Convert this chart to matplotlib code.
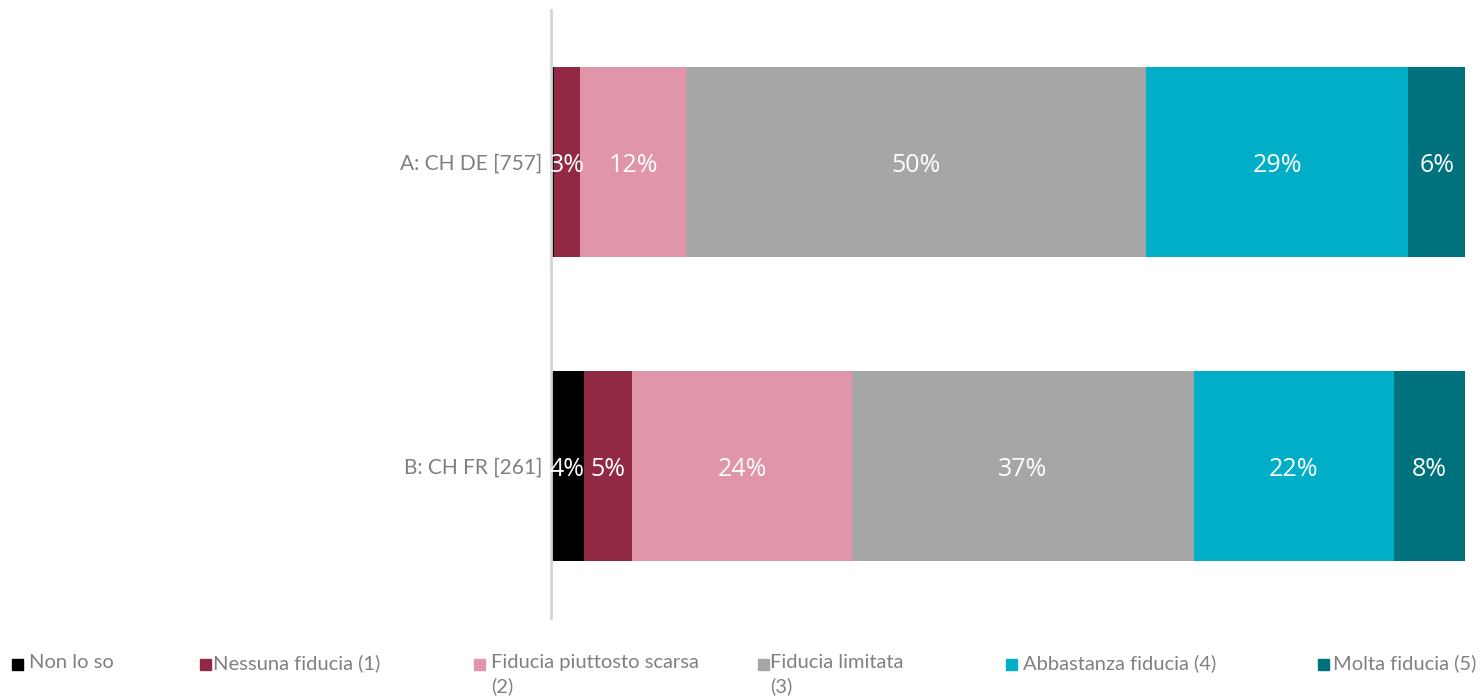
import numpy as np
import matplotlib
matplotlib.use("Agg")
import matplotlib.pyplot as plt
from matplotlib.patches import Rectangle

# data (percent)
groups = ["B: CH FR [261]", "A: CH DE [757]"]
categories = ["Non lo so", "Nessuna fiducia (1)", "Fiducia piuttosto scarsa\n(2)",
              "Fiducia limitata\n(3)", "Abbastanza fiducia (4)", "Molta fiducia (5)"]
vals_a = [0.3, 2.9, 11.6, 50.3, 28.7, 6.2]
vals_b = [3.6, 5.3, 24.0, 37.4, 21.9, 7.8]
colors = ["#000000", "#922944", "#e095a8", "#a6a6a6", "#00aec7", "#00727e"]

plt.rcParams['font.family'] = ['Lato', 'DejaVu Sans']

fig = plt.figure(figsize=(14.78, 6.98), dpi=100)
ax = fig.add_axes([551/1478, 1 - 618/698, (1465 - 551)/1478, 608/698])

data = np.array([vals_b, vals_a])   # row 0 = B (bottom), row 1 = A (top)
y = np.arange(len(groups))
left = np.zeros(len(groups))
for i, cat in enumerate(categories):
    bars = ax.barh(y, data[:, i], left=left, height=0.625, color=colors[i], label=cat)
    for j, b in enumerate(bars):
        v = data[j, i]
        if v >= 1:
            ax.text(left[j] + v / 2, y[j] - 0.012, f"{round(v):.0f}%", ha="center", va="center",
                    color="white", fontsize=18, family=['Open Sans', 'DejaVu Sans'])
    left += data[:, i]

ax.set_xlim(0, 100)
ax.set_ylim(-0.5, 1.5)
ax.set_yticks(y)
ax.set_yticklabels(groups, fontsize=15, color="#808080")
ax.tick_params(axis="y", length=0, pad=6)
ax.set_xticks([])
for s in ["top", "right", "bottom"]:
    ax.spines[s].set_visible(False)
ax.spines["left"].set_color("#d4d4d4")
ax.spines["left"].set_linewidth(2)

# legend laid out manually along the bottom
leg_x = [12, 200, 474, 758, 1006, 1318]
txt_off = [17, 13, 17, 12, 17, 15]
for i, cat in enumerate(categories):
    x0 = leg_x[i]
    fig.patches.append(Rectangle((x0 / 1478, 1 - 670 / 698), 11 / 1478, 11 / 698,
                                 transform=fig.transFigure, color=colors[i]))
    fig.text((x0 + txt_off[i]) / 1478, 1 - 654 / 698, cat, ha="left", va="top",
             fontsize=14.5, color="#808080", linespacing=1.4)

fig.savefig("out.png", dpi=100)
